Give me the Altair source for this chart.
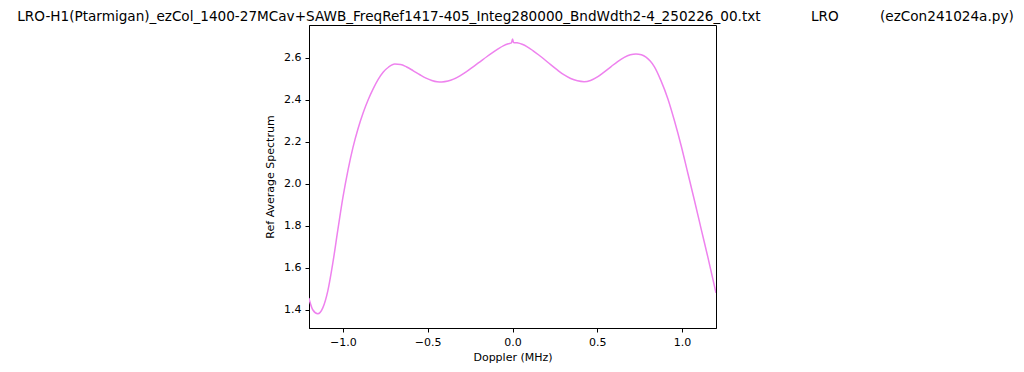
import altair as alt
import pandas as pd

doppler = [-1.201, -1.178, -1.148, -1.118, -1.089, -1.059, -1.030, -1.0, -0.970, -0.941,
           -0.911, -0.881, -0.851, -0.821, -0.792, -0.763, -0.730, -0.694, -0.660, -0.624,
           -0.585, -0.546, -0.510, -0.476, -0.445, -0.417, -0.380, -0.348, -0.310, -0.269,
           -0.230, -0.190, -0.150, -0.111, -0.080, -0.052, -0.025, -0.006, 0.0, 0.006,
           0.027, 0.057, 0.087, 0.120, 0.155, 0.185, 0.225, 0.264, 0.305, 0.343,
           0.383, 0.422, 0.460, 0.501, 0.540, 0.580, 0.620, 0.659, 0.695, 0.728,
           0.760, 0.787, 0.812, 0.837, 0.876, 0.916, 0.955, 0.995, 1.034, 1.073,
           1.113, 1.153, 1.2]
spectrum = [1.456, 1.400, 1.381, 1.410, 1.490, 1.625, 1.780, 1.935, 2.065, 2.172,
            2.262, 2.337, 2.400, 2.453, 2.497, 2.531, 2.556, 2.570, 2.568, 2.556,
            2.538, 2.519, 2.503, 2.492, 2.486, 2.485, 2.489, 2.498, 2.514, 2.535,
            2.558, 2.582, 2.606, 2.628, 2.645, 2.658, 2.667, 2.671, 2.689, 2.673,
            2.671, 2.664, 2.652, 2.634, 2.613, 2.594, 2.567, 2.542, 2.518, 2.501,
            2.490, 2.486, 2.492, 2.509, 2.532, 2.557, 2.582, 2.602, 2.614, 2.618,
            2.614, 2.603, 2.584, 2.557, 2.490, 2.405, 2.300, 2.180, 2.050, 1.920,
            1.783, 1.647, 1.480]

x_ticks = [-1.0, -0.5, 0.0, 0.5, 1.0]
y_ticks = [1.4, 1.6, 1.8, 2.0, 2.2, 2.4, 2.6]

title_main = "LRO-H1(Ptarmigan)_ezCol_1400-27MCav+SAWB_FreqRef1417-405_Integ280000_BndWdth2-4_250226_00.txt"
title_site = "LRO"
title_prog = "(ezCon241024a.py)"

df = pd.DataFrame({"Doppler": doppler, "Spectrum": spectrum})

FONT = "DejaVu Sans"

line = alt.Chart(df).mark_line(color="violet", strokeWidth=1.5, interpolate="monotone", clip=True).encode(
    x=alt.X("Doppler:Q", scale=alt.Scale(domain=[-1.2, 1.2], nice=False, zero=False),
            axis=alt.Axis(values=x_ticks, format=".1f", title="Doppler (MHz)")),
    y=alt.Y("Spectrum:Q", scale=alt.Scale(domain=[1.313, 2.756], nice=False, zero=False),
            axis=alt.Axis(values=y_ticks, format=".1f", title="Ref Average Spectrum",
                          titlePadding=8)),
)

one = alt.Data(values=[{"a": 1}])

def title_text(txt, xpos):
    return alt.Chart(one).mark_text(text=txt, align="left", baseline="alphabetic",
                                    font=FONT, fontSize=13.6, color="black").encode(
        x=alt.value(xpos), y=alt.value(-4.3))

chart = alt.layer(
    line,
    title_text(title_main, -291.7),
    title_text(title_site, 502),
    title_text(title_prog, 571),
).properties(
    width=407, height=303,
    autosize=alt.AutoSizeParams(type="none"),
    padding={"left": 301, "top": 17, "right": 300, "bottom": 36},
).configure_view(
    stroke="black", strokeWidth=1
).configure_axis(
    grid=False, domainColor="black", tickColor="black", labelColor="black", titleColor="black",
    labelFont=FONT, titleFont=FONT, labelFontSize=11, titleFontSize=11, titleFontWeight="normal",
    tickSize=4, labelPadding=4, titlePadding=4, domainWidth=1,
)

chart.save("out.html", embed_options={"renderer": "svg", "actions": False})
